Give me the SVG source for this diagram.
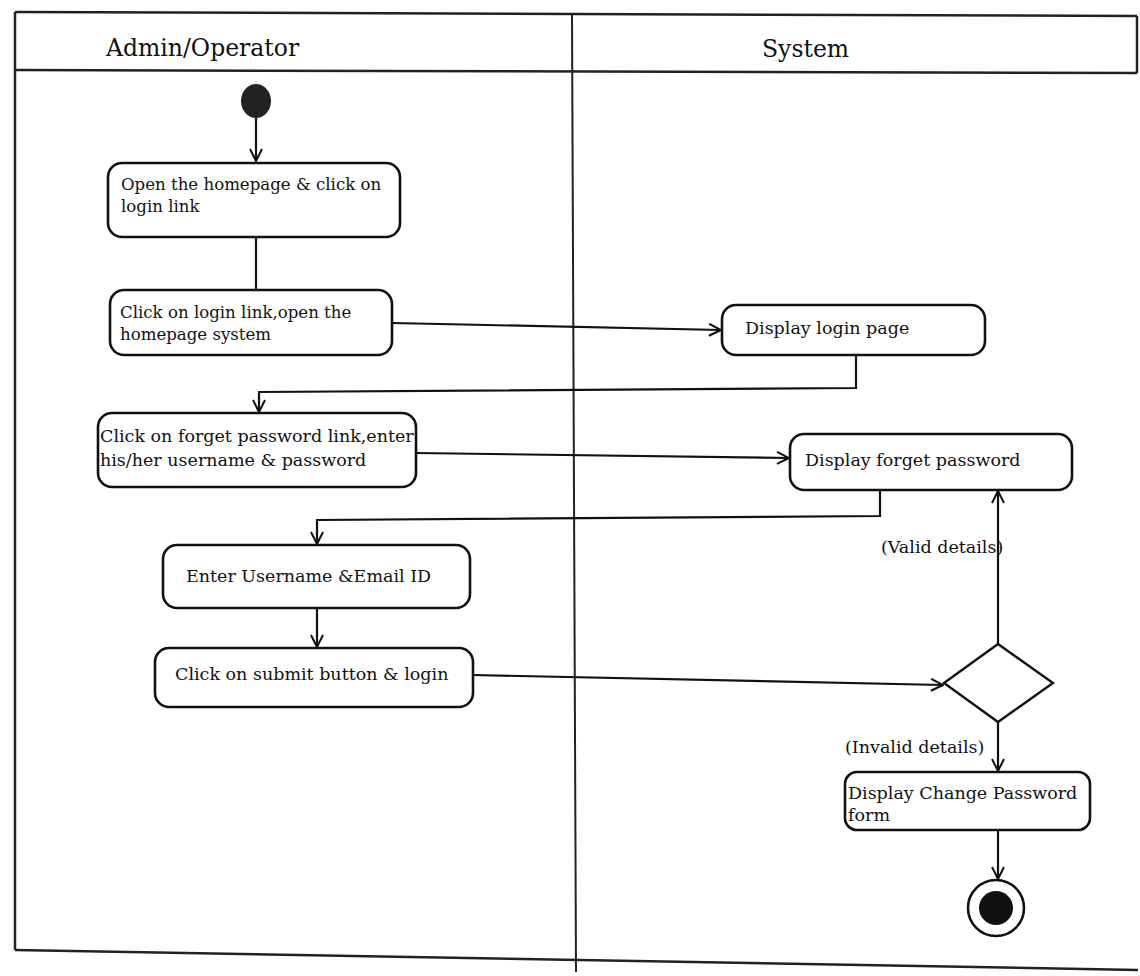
<svg xmlns="http://www.w3.org/2000/svg" width="1140" height="976" viewBox="0 0 1140 976">
<style>
.frame{fill:none;stroke:#222;stroke-width:2.5}
.box{fill:#fff;stroke:#111;stroke-width:2.6}
.t{font-family:"DejaVu Serif","Liberation Serif",serif;font-size:17.5px;fill:#111}
.s{font-size:16.6px}
.h{font-family:"DejaVu Serif","Liberation Serif",serif;font-size:23.5px;fill:#111}
.c{fill:none;stroke:#111;stroke-width:2.2}
</style>
<defs>
<marker id="arr" viewBox="0 0 14 14" refX="13" refY="7" markerWidth="14" markerHeight="14" markerUnits="userSpaceOnUse" orient="auto">
<path d="M1,1 L13,7 L1,13" fill="none" stroke="#111" stroke-width="2"/>
</marker>
</defs>
<g id="frame">
<path class="frame" d="M15,12 L1137,16"/>
<path class="frame" d="M15,70 L1137,73"/>
<path class="frame" d="M15,12 L15,950"/>
<path class="frame" d="M15,950 L1138,970"/>
<path class="frame" d="M1137,16 L1137,73"/>
<path class="frame" d="M572,15 L576,972" style="stroke-width:2"/>
<text class="h" x="106" y="56">Admin/Operator</text>
<text class="h" x="762" y="57">System</text>
</g>
<g id="start"><ellipse cx="256" cy="101" rx="15" ry="17" fill="#222"/></g>
<g id="n1"><rect class="box" x="108" y="163" width="292" height="74" rx="14"/>
<text class="t s" x="121" y="190">Open the homepage &amp; click on</text><text class="t s" x="121" y="212">login link</text></g>
<g id="n2"><rect class="box" x="110" y="290" width="282" height="65" rx="14"/>
<text class="t s" x="120" y="318">Click on login link,open the</text><text class="t s" x="120" y="340">homepage system</text></g>
<g id="n3"><rect class="box" x="722" y="305" width="263" height="50" rx="14"/>
<text class="t" x="745" y="334">Display login page</text></g>
<g id="n4"><rect class="box" x="98" y="413" width="318" height="74" rx="14"/>
<text class="t" x="100" y="442">Click on forget password link,enter</text><text class="t" x="100" y="466">his/her username &amp; password</text></g>
<g id="n5"><rect class="box" x="790" y="434" width="282" height="56" rx="14"/>
<text class="t" x="805" y="466">Display forget password</text></g>
<g id="n6"><rect class="box" x="163" y="545" width="307" height="63" rx="14"/>
<text class="t" x="186" y="582">Enter Username &amp;Email ID</text></g>
<g id="n7"><rect class="box" x="155" y="648" width="318" height="59" rx="14"/>
<text class="t" x="175" y="680">Click on submit button &amp; login</text></g>
<g id="decision"><path d="M944,683 L998,644 L1053,683 L998,722 Z" fill="#fff" stroke="#111" stroke-width="2.4"/></g>
<g id="n8"><rect class="box" x="845" y="772" width="245" height="58" rx="12"/>
<text class="t" x="848" y="799">Display Change Password</text><text class="t" x="848" y="821">form</text></g>
<g id="end"><ellipse cx="996" cy="908" rx="28" ry="28" fill="#fff" stroke="#111" stroke-width="2.6"/><ellipse cx="996" cy="908" rx="17" ry="17" fill="#111"/></g>
<g id="connectors">
<path class="c" d="M256,118 L256,161" marker-end="url(#arr)"/>
<path class="c" d="M256,237 L256,290"/>
<path class="c" d="M392,323 L721,330" marker-end="url(#arr)"/>
<path class="c" d="M856,355 L856,388 L259,392 L259,412" marker-end="url(#arr)"/>
<path class="c" d="M416,453 L789,458" marker-end="url(#arr)"/>
<path class="c" d="M880,490 L880,516 L317,520 L317,544" marker-end="url(#arr)"/>
<path class="c" d="M317,608 L317,647" marker-end="url(#arr)"/>
<path class="c" d="M473,675 L943,685" marker-end="url(#arr)"/>
<path class="c" d="M998,644 L998,491" marker-end="url(#arr)"/>
<path class="c" d="M998,722 L998,771" marker-end="url(#arr)"/>
<path class="c" d="M998,830 L998,879" marker-end="url(#arr)"/>
<text class="t" x="881" y="553">(Valid details)</text>
<text class="t" x="845" y="753">(Invalid details)</text>
</g>
</svg>
